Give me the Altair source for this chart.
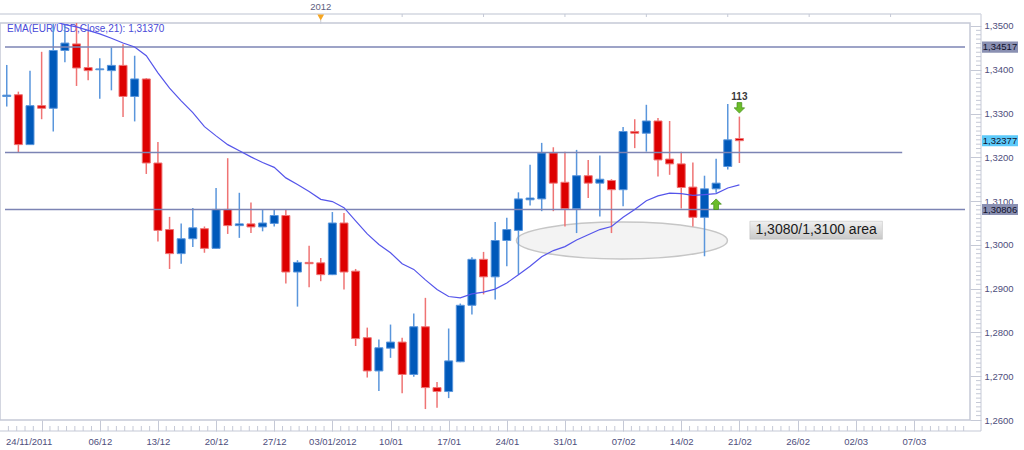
import altair as alt
import pandas as pd

# ---------------- data ----------------
# trading-day index; index 0 = the "24/11/2011" tick, every 5th index is a labelled tick
day_index = list(range(-3, 61))
open_ = [1.3339, 1.3343, 1.3229, 1.3318, 1.3312, 1.3444, 1.3459, 1.3405, 1.3400, 1.3398,
         1.3410, 1.3339, 1.3379, 1.3187, 1.3035, 1.2980, 1.3014, 1.3037, 1.2992, 1.3081,
         1.3044, 1.3048, 1.3041, 1.3049, 1.3067, 1.2938, 1.2960, 1.2959, 1.2932, 1.3050,
         1.2940, 1.2788, 1.2712, 1.2764, 1.2778, 1.2704, 1.2813, 1.2674, 1.2665, 1.2733,
         1.2862, 1.2967, 1.2927, 1.3010, 1.3033, 1.3103, 1.3105, 1.3210, 1.3143, 1.3083,
         1.3158, 1.3141, 1.3147, 1.3126, 1.3259, 1.3255, 1.3283, 1.3196, 1.3185, 1.3132,
         1.3063, 1.3128, 1.3179, 1.3243]
high_ = [1.3411, 1.3350, 1.3398, 1.3441, 1.3505, 1.3502, 1.3510, 1.3487, 1.3426, 1.3451,
         1.3458, 1.3432, 1.3381, 1.3235, 1.3064, 1.3049, 1.3084, 1.3042, 1.3130, 1.3198,
         1.3119, 1.3097, 1.3081, 1.3081, 1.3081, 1.2965, 1.2998, 1.2970, 1.3075, 1.3073,
         1.2945, 1.2811, 1.2784, 1.2818, 1.2788, 1.2843, 1.2879, 1.2687, 1.2809, 1.2866,
         1.2972, 1.2984, 1.3052, 1.3062, 1.3120, 1.3183, 1.3233, 1.3223, 1.3213, 1.3217,
         1.3194, 1.3204, 1.3150, 1.3269, 1.3287, 1.3320, 1.3290, 1.3283, 1.3213, 1.3188,
         1.3158, 1.3197, 1.3322, 1.3293]
low_ = [1.3316, 1.3212, 1.3228, 1.3287, 1.3259, 1.3417, 1.3363, 1.3376, 1.3334, 1.3353,
        1.3292, 1.3282, 1.3162, 1.3008, 1.2945, 1.2957, 1.2995, 1.2982, 1.2991, 1.3025,
        1.3016, 1.3027, 1.3031, 1.3042, 1.2912, 1.2859, 1.2903, 1.2917, 1.2931, 1.2898,
        1.2769, 1.2697, 1.2666, 1.2742, 1.2661, 1.2699, 1.2625, 1.2628, 1.2650, 1.2732,
        1.2841, 1.2887, 1.2875, 1.2951, 1.2932, 1.3090, 1.3077, 1.3077, 1.3042, 1.3027,
        1.3107, 1.3065, 1.3027, 1.3088, 1.3221, 1.3213, 1.3156, 1.3160, 1.3083, 1.3042,
        1.2974, 1.3119, 1.3172, 1.3187]
close_ = [1.3342, 1.3229, 1.3318, 1.3312, 1.3444, 1.3461, 1.3404, 1.3398, 1.3402, 1.3410,
          1.3339, 1.3379, 1.3187, 1.3033, 1.2980, 1.3014, 1.3039, 1.2992, 1.3081, 1.3044,
          1.3048, 1.3041, 1.3050, 1.3067, 1.2938, 1.2960, 1.2957, 1.2932, 1.3050, 1.2938,
          1.2786, 1.2712, 1.2765, 1.2778, 1.2704, 1.2813, 1.2674, 1.2665, 1.2735, 1.2862,
          1.2967, 1.2927, 1.3010, 1.3035, 1.3105, 1.3107, 1.3210, 1.3141, 1.3083, 1.3158,
          1.3141, 1.3150, 1.3126, 1.3259, 1.3255, 1.3283, 1.3194, 1.3185, 1.3131, 1.3063,
          1.3128, 1.3141, 1.3240, 1.3238]
ema21 = [1.3539, 1.3532, 1.3525, 1.3518, 1.3511, 1.3503, 1.3498, 1.3490, 1.3482, 1.3472,
         1.3461, 1.3452, 1.3432, 1.3393, 1.3358, 1.3329, 1.3302, 1.3270, 1.3249, 1.3229,
         1.3215, 1.3201, 1.3188, 1.3177, 1.3153, 1.3138, 1.3122, 1.3104, 1.3099, 1.3085,
         1.3055, 1.3025, 1.3001, 1.2982, 1.2957, 1.2944, 1.2920, 1.2898, 1.2882, 1.2879,
         1.2888, 1.2892, 1.2899, 1.2913, 1.2932, 1.2951, 1.2973, 1.2987, 1.2996, 1.3011,
         1.3023, 1.3035, 1.3042, 1.3063, 1.3081, 1.3101, 1.3112, 1.3118, 1.3117, 1.3113,
         1.3115, 1.3117, 1.3130, 1.3137]

tick_labels = ["24/11/2011", "06/12", "13/12", "20/12", "27/12", "03/01/2012", "10/01",
               "17/01", "24/01", "31/01", "07/02", "14/02", "21/02", "26/02", "02/03", "07/03"]
tick_index = [5 * k for k in range(len(tick_labels))]
price_ticks = [1.26, 1.27, 1.28, 1.29, 1.30, 1.31, 1.32, 1.33, 1.34, 1.35]

level_price = [1.34517, 1.3211, 1.30806]
level_start = [-3.15, -3.15, -3.15]
level_end = [79.4, 74.0, 79.4]

tag_price = [1.34517, 1.32377, 1.30806]
tag_text = ["1,34517", "1,32377", "1,30806"]
tag_fill = ["#8a90b2", "#5ccafa", "#8a90b2"]

year_marker_index = [24]
year_marker_text = ["2012"]
top_strip_ticks = [31, 38, 45, 52, 59, 66, 73]

ellipse_center_index = [49.9]
ellipse_center_price = [1.3010]

box_left, box_right = [60.9], [72.3]
box_low, box_high = [1.3013], [1.3054]
box_text = ["1,3080/1,3100 area"]

down_arrow_index, down_arrow_price = [60], [1.3313]
signal_text, signal_price = ["113"], [1.3337]
up_arrow_index, up_arrow_price = [58], [1.3093]

ema_label = "EMA(EUR/USD,Close,21): 1,31370"

# ---------------- frames ----------------
candles = pd.DataFrame({"i": day_index, "open": open_, "high": high_, "low": low_, "close": close_})
candles["dir"] = ["up" if c >= o else "down" for o, c in zip(open_, close_)]
ema_df = pd.DataFrame({"i": day_index, "ema": ema21})
levels = pd.DataFrame({"p": level_price, "a": level_start, "b": level_end})
tags = pd.DataFrame({"p": tag_price, "t": tag_text, "f": tag_fill})
minor_y = pd.DataFrame({"v": [round(1.26 + k * 0.001, 3) for k in range(91) if k % 10 != 0]})
minor_x = pd.DataFrame({"m": [5 * m + 5 * j / 7 for m in range(-1, 16) for j in range(1, 7)
                              if -3.1 < 5 * m + 5 * j / 7 < 79.3]})

FONT = "Liberation Sans"
AX = "#c5c9d6"
LAB = "#4e4e7c"

xscale = alt.Scale(domain=[-3.15, 79.4], nice=False, zero=False)
yscale = alt.Scale(domain=[1.2600, 1.35068], nice=False, zero=False)

label_arr = "[" + ",".join("'" + s + "'" for s in tick_labels) + "]"
x_axis = alt.Axis(values=tick_index, labelExpr=label_arr + "[round(datum.value/5)]",
                  title=None, grid=False, domain=False, ticks=True, tickSize=11,
                  tickColor=AX, labelFont=FONT, labelFontSize=9.5, labelColor=LAB,
                  labelPadding=5, labelOffset={"expr": "datum.value == 0 ? -13 : 0"})
y_axis = alt.Axis(orient="right", values=price_ticks,
                  labelExpr="replace(format(datum.value, '.4f'), '.', ',')",
                  title=None, grid=False, domain=False, ticks=True, tickSize=11,
                  tickColor=AX, labelFont=FONT, labelFontSize=9.5, labelColor=LAB,
                  labelPadding=3, labelBaseline="middle")


def X(f):
    return alt.X(f, type="quantitative", scale=xscale, axis=x_axis)


def Y(f):
    return alt.Y(f, type="quantitative", scale=yscale, axis=y_axis)


one = pd.DataFrame({"k": [0]})

# ---------------- layers ----------------
ellipse = alt.Chart(pd.DataFrame({"x": ellipse_center_index, "y": ellipse_center_price})).mark_point(
    shape="M -1 0 A 1 0.175 0 1 0 1 0 A 1 0.175 0 1 0 -1 0",
    size=44521, filled=True, color="#f3f3f3", stroke="#c6c6c6", strokeWidth=1.5, opacity=1
).encode(x=X("x"), y=Y("y"))

ema_text = alt.Chart(one).mark_text(text=ema_label, align="left", baseline="middle",
                                    font=FONT, fontSize=10, color="#4a4ad8").encode(
    x=alt.value(7), y=alt.value(6.3))

stroke_scale = alt.Scale(domain=["up", "down"], range=["#5a96dc", "#ef7474"])
fill_scale = alt.Scale(domain=["up", "down"], range=["#0059ba", "#dd0000"])

wicks = alt.Chart(candles).mark_rule(strokeWidth=1.5, clip=True).encode(
    x=X("i"), y=Y("low"), y2="high:Q",
    stroke=alt.Stroke("dir:N", scale=stroke_scale, legend=None),
)
bodies = alt.Chart(candles).mark_bar(size=8, strokeWidth=1, clip=True).encode(
    x=X("i"), y=Y("open"), y2="close:Q",
    fill=alt.Fill("dir:N", scale=fill_scale, legend=None),
    stroke=alt.Stroke("dir:N", scale=stroke_scale, legend=None),
)
ema_line = alt.Chart(ema_df).mark_line(color="#5555ea", strokeWidth=1.2, clip=True).encode(
    x=X("i"), y=Y("ema"))

level_lines = alt.Chart(levels).mark_rule(color="#7c84b4", strokeWidth=1.5).encode(
    x=X("a"), x2="b:Q", y=Y("p"))

box = alt.Chart(pd.DataFrame({"a": box_left, "b": box_right, "lo": box_low, "hi": box_high})).mark_rect(
    fill=alt.LinearGradient(gradient="linear",
                            stops=[alt.GradientStop(color="#f0f0f0", offset=0),
                                   alt.GradientStop(color="#c8c8c8", offset=1)],
                            x1=0, x2=0, y1=0, y2=1),
    stroke="#bdbdbd", strokeWidth=0.5
).encode(x=X("a"), x2="b:Q", y=Y("lo"), y2="hi:Q")
box_label = alt.Chart(pd.DataFrame({"x": [(box_left[0] + box_right[0]) / 2],
                                    "y": [(box_low[0] + box_high[0]) / 2], "t": box_text})).mark_text(
    font=FONT, fontSize=14, color="#1a1a1a", baseline="middle", align="center"
).encode(x=X("x"), y=Y("y"), text="t:N")

down_arrow = alt.Chart(pd.DataFrame({"x": down_arrow_index, "y": down_arrow_price})).mark_point(
    shape="M -0.45 -1 L 0.45 -1 L 0.45 0 L 1 0 L 0 1 L -1 0 L -0.45 0 Z",
    size=110, filled=True, color="#6cbd2a", stroke="#3f8c14", strokeWidth=0.7, opacity=1
).encode(x=X("x"), y=Y("y"))
up_arrow = alt.Chart(pd.DataFrame({"x": up_arrow_index, "y": up_arrow_price})).mark_point(
    shape="M -0.45 1 L 0.45 1 L 0.45 0 L 1 0 L 0 -1 L -1 0 L -0.45 0 Z",
    size=110, filled=True, color="#6cbd2a", stroke="#3f8c14", strokeWidth=0.7, opacity=1
).encode(x=X("x"), y=Y("y"))
signal = alt.Chart(pd.DataFrame({"x": down_arrow_index, "y": signal_price, "t": signal_text})).mark_text(
    font=FONT, fontSize=10, fontWeight="bold", color="#3a3a3a", baseline="middle"
).encode(x=X("x"), y=Y("y"), text="t:N")

# chart frame decorations (rulers, strips)
bottom_ruler = alt.Chart(one).mark_rule(color=AX, strokeWidth=1).encode(
    x=alt.value(0), x2=alt.value(981), y=alt.value(408))
right_ruler = alt.Chart(one).mark_rule(color=AX, strokeWidth=1).encode(
    x=alt.value(981), y=alt.value(-9), y2=alt.value(408))
top_strip = alt.Chart(one).mark_rule(color="#d3d7e0", strokeWidth=1.5).encode(
    x=alt.value(0), x2=alt.value(981), y=alt.value(-9))
top_ticks = alt.Chart(pd.DataFrame({"m": top_strip_ticks})).mark_rule(color="#c5c9d6").encode(
    x=X("m"), y=alt.value(-9), y2=alt.value(-6))
minor_x_ticks = alt.Chart(minor_x).mark_rule(color=AX).encode(
    x=X("m"), y=alt.value(403), y2=alt.value(408))
minor_y_ticks = alt.Chart(minor_y).mark_rule(color=AX).encode(
    x=alt.value(976), x2=alt.value(981), y=Y("v"))

year_df = pd.DataFrame({"x": year_marker_index, "t": year_marker_text})
year_mark = alt.Chart(year_df).mark_point(shape="triangle-down", size=45, filled=True,
                                          color="#f5a623", opacity=1).encode(
    x=X("x"), y=alt.value(-5.5))
year_stem = alt.Chart(year_df).mark_rule(color="#c8ccd6").encode(
    x=X("x"), y=alt.value(-3), y2=alt.value(1))
year_text = alt.Chart(year_df).mark_text(font=FONT, fontSize=9.5, color="#5e5e7e",
                                         baseline="middle").encode(
    x=X("x"), y=alt.value(-16), text="t:N")

tag_rects = alt.Chart(tags).transform_calculate(
    lo="datum.p - 0.00126", hi="datum.p + 0.00126"
).mark_rect().encode(
    x=alt.value(982), x2=alt.value(1018), y=Y("lo:Q"), y2="hi:Q",
    fill=alt.Fill("f:N", scale=None))
tag_labels = alt.Chart(tags).mark_text(font=FONT, fontSize=9.5, color="#10102a",
                                       baseline="middle", align="center").encode(
    x=alt.value(1000), y=Y("p"), text="t:N")

chart = alt.layer(
    ellipse, ema_text, wicks, bodies, level_lines, ema_line,
    box, box_label, down_arrow, up_arrow, signal,
    bottom_ruler, right_ruler, top_strip, top_ticks, minor_x_ticks, minor_y_ticks,
    year_stem, year_mark, year_text, tag_rects, tag_labels,
).properties(
    width=970, height=397,
    autosize=alt.AutoSizeParams(type="none"),
    padding={"left": 0, "top": 23, "right": 54, "bottom": 30},
    background="white",
).configure_view(stroke="#c5c9d6", strokeWidth=1.5)

chart.save("out.html", embed_options={"renderer": "svg", "actions": False})
